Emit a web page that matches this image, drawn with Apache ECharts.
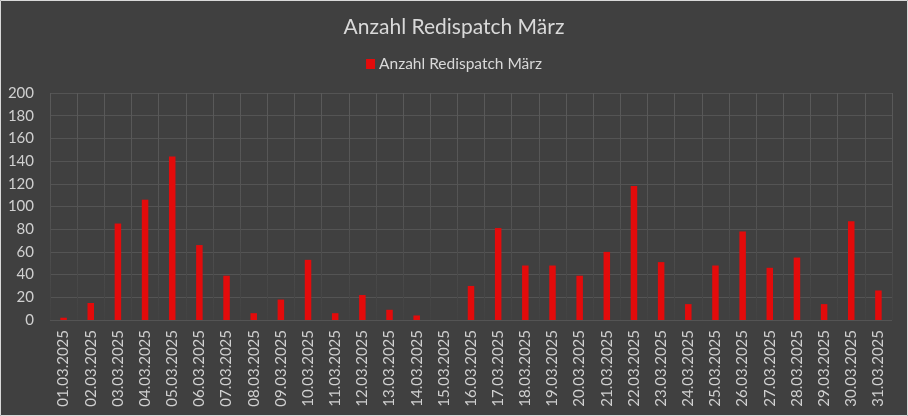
<!DOCTYPE html>
<html>
<head>
<meta charset="utf-8">
<script src="https://cdn.jsdelivr.net/npm/echarts@6/dist/echarts.min.js"></script>
<style>
html,body{margin:0;padding:0;background:#404040;}
#chart{width:908px;height:416px;}
</style>
</head>
<body>
<div id="chart"></div>
<script>
const chartTitle = "Anzahl Redispatch März";
const seriesName = "Anzahl Redispatch März";
const categories = ["01.03.2025","02.03.2025","03.03.2025","04.03.2025","05.03.2025","06.03.2025","07.03.2025","08.03.2025","09.03.2025","10.03.2025","11.03.2025","12.03.2025","13.03.2025","14.03.2025","15.03.2025","16.03.2025","17.03.2025","18.03.2025","19.03.2025","20.03.2025","21.03.2025","22.03.2025","23.03.2025","24.03.2025","25.03.2025","26.03.2025","27.03.2025","28.03.2025","29.03.2025","30.03.2025","31.03.2025"];
const values = [2,15,85,106,144,66,39,6,18,53,6,22,9,4,0,30,81,48,48,39,60,118,51,14,48,78,46,55,14,87,26];
const yTicks = {min:0, max:200, interval:20};

const FONT = "Lato";
const chart = echarts.init(document.getElementById('chart'));
const gridGrad = new echarts.graphic.LinearGradient(0,0,0,1,[
  {offset:0,color:'#5a5a5a'},
  {offset:0.5,color:'#545454'},
  {offset:1,color:'#424242'}
]);
chart.setOption({
  backgroundColor:'#404040',
  animation:false,
  textStyle:{fontFamily:FONT},
  title:{
    text:chartTitle,
    left:'center',
    top:12,
    textStyle:{color:'#d9d9d9',fontSize:21,fontWeight:'normal',fontFamily:FONT}
  },
  legend:{
    top:51,
    left:'center',
    itemWidth:9,
    itemHeight:10,
    itemGap:6,
    icon:'rect',
    textStyle:{color:'#d9d9d9',fontSize:15.5,fontFamily:FONT,padding:[0,0,0,-1]},
    data:[seriesName]
  },
  grid:{left:50,right:16,top:93,bottom:96,containLabel:false},
  xAxis:{
    type:'category',
    data:categories,
    boundaryGap:true,
    axisLine:{show:false},
    axisTick:{show:false},
    axisLabel:{rotate:90,interval:0,margin:10,color:'#d0d0d0',fontSize:15,fontFamily:FONT},
    splitLine:{show:true,interval:0,lineStyle:{color:gridGrad,width:1}}
  },
  yAxis:{
    type:'value',
    min:yTicks.min,max:yTicks.max,interval:yTicks.interval,
    axisLine:{show:false},
    axisTick:{show:false},
    axisLabel:{color:'#d0d0d0',fontSize:15,margin:16,fontFamily:FONT},
    splitLine:{show:true,lineStyle:{color:gridGrad,width:1}}
  },
  graphic:[{
    type:'rect',
    shape:{x:0.5,y:0.5,width:907,height:415},
    style:{fill:null,stroke:'#d9d9d9',lineWidth:1},
    silent:true,z:100
  }],
  series:[{
    name:seriesName,
    type:'bar',
    data:values,
    barWidth:6.5,
    itemStyle:{color:'#e30b0b'}
  }]
});
</script>
</body>
</html>
